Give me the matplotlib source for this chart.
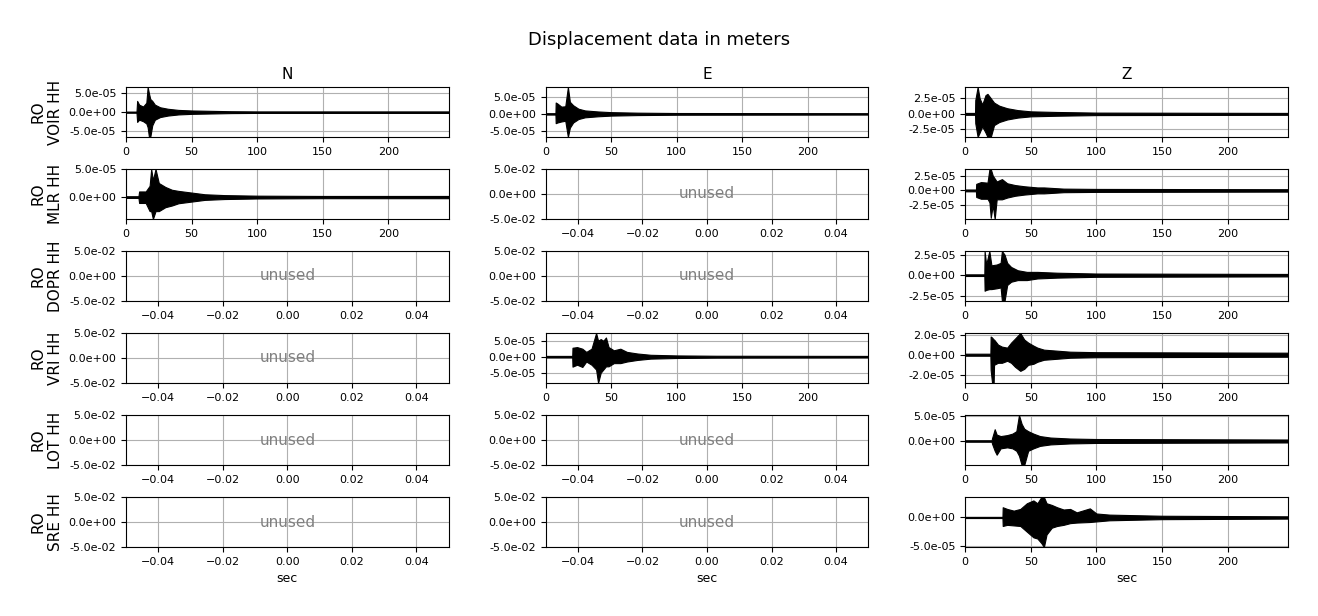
import matplotlib
matplotlib.use("Agg")
import matplotlib.pyplot as plt
import numpy as np
from matplotlib.ticker import FormatStrFormatter, MaxNLocator

plt.rcParams['xtick.labelsize'] = 8
plt.rcParams['ytick.labelsize'] = 8

# station rows and component columns
stations = ['VOIR', 'MLR', 'DOPR', 'VRI', 'LOT', 'SRE']
components = ['N', 'E', 'Z']

# trace envelopes: time (s), upper / lower bound (x 1e-5 m)
voir_n_t = [0, 8.0, 8.5, 10, 13, 15.5, 16.5, 17.5, 18.5, 20, 22, 26, 32, 40, 50, 65, 80, 100, 246]
voir_n_up = [0.15, 0.15, 3.0, 2.0, 1.5, 2.5, 6.7, 5.0, 3.5, 3.0, 2.0, 1.3, 0.9, 0.6, 0.45, 0.35, 0.25, 0.2, 0.2]
voir_n_lo = [-0.15, -0.15, -2.6, -2.0, -2.4, -3.0, -4.0, -6.6, -6.6, -3.5, -2.0, -1.3, -0.9, -0.6, -0.45, -0.35, -0.25, -0.2, -0.2]

mlr_n_t = [0, 9.5, 10, 15, 18, 19.2, 20.5, 22.5, 25, 30, 35, 40, 50, 60, 75, 100, 150, 246]
mlr_n_up = [0.15, 0.15, 1.0, 1.0, 2.0, 5.0, 3.0, 5.0, 2.5, 1.8, 1.3, 1.1, 0.8, 0.5, 0.35, 0.25, 0.2, 0.2]
mlr_n_lo = [-0.15, -0.15, -1.05, -1.05, -2.5, -2.5, -3.9, -2.5, -2.5, -1.8, -1.5, -1.1, -0.8, -0.5, -0.35, -0.25, -0.2, -0.2]

voir_e_t = [0, 7.5, 7.7, 9, 12, 15, 17, 18.5, 21, 25, 30, 40, 50, 70, 100, 246]
voir_e_up = [0.2, 0.2, 3.3, 3.0, 2.1, 2.2, 7.8, 3.5, 2.5, 1.5, 1.0, 0.7, 0.5, 0.35, 0.25, 0.2]
voir_e_lo = [-0.2, -0.2, -2.7, -2.5, -2.2, -2.0, -6.7, -4.0, -2.5, -1.5, -1.0, -0.7, -0.5, -0.35, -0.25, -0.2]

vri_e_t = [0, 20.3, 20.5, 24, 28, 31, 35, 38.5, 40, 42, 44, 46, 48, 52, 57, 62, 70, 80, 100, 130, 246]
vri_e_up = [0.25, 0.25, 2.8, 3.0, 2.5, 1.5, 2.5, 7.4, 5.0, 5.5, 5.0, 6.0, 3.0, 2.0, 2.5, 1.5, 1.0, 0.6, 0.4, 0.3, 0.25]
vri_e_lo = [-0.25, -0.25, -3.1, -2.5, -3.2, -1.5, -2.5, -4.0, -8.2, -5.0, -4.0, -3.0, -3.0, -2.0, -2.0, -1.5, -1.0, -0.6, -0.4, -0.3, -0.25]

voir_z_t = [0, 7.5, 7.7, 9.5, 11, 13, 15.5, 17, 19.5, 22, 26, 32, 40, 50, 70, 100, 246]
voir_z_up = [0.15, 0.15, 2.2, 4.3, 2.5, 1.5, 3.0, 3.2, 2.5, 1.8, 1.3, 0.9, 0.6, 0.4, 0.3, 0.2, 0.15]
voir_z_lo = [-0.15, -0.15, -1.5, -3.7, -3.0, -2.0, -3.0, -3.7, -3.7, -1.8, -1.3, -0.9, -0.6, -0.4, -0.3, -0.2, -0.15]

mlr_z_t = [0, 8.2, 8.4, 12, 17, 18.5, 19.5, 21, 22.5, 24, 28, 32, 38, 45, 55, 60, 75, 100, 246]
mlr_z_up = [0.15, 0.15, 1.1, 1.4, 1.3, 3.6, 3.6, 2.5, 2.0, 1.5, 1.9, 1.2, 0.9, 0.7, 0.5, 0.5, 0.3, 0.25, 0.2]
mlr_z_lo = [-0.15, -0.15, -1.1, -1.4, -1.4, -2.0, -4.6, -2.5, -4.8, -1.5, -1.5, -1.2, -0.9, -0.7, -0.5, -0.5, -0.3, -0.25, -0.2]

dopr_z_t = [0, 14.6, 14.8, 16, 18.4, 20, 24, 27, 28, 30, 32, 35, 40, 47, 55, 70, 85, 100, 246]
dopr_z_up = [0.1, 0.1, 2.95, 1.3, 2.95, 1.2, 1.3, 1.5, 2.95, 2.5, 1.5, 1.0, 0.6, 0.4, 0.4, 0.3, 0.25, 0.2, 0.15]
dopr_z_lo = [-0.1, -0.1, -1.9, -1.8, -1.7, -1.7, -1.6, -1.5, -3.15, -3.15, -1.2, -0.8, -0.6, -0.6, -0.4, -0.3, -0.25, -0.2, -0.15]

vri_z_t = [0, 19.2, 19.4, 20.5, 21.7, 22, 25, 28, 32, 35, 38, 42, 45, 48, 52, 55, 60, 70, 80, 100, 246]
vri_z_up = [0.1, 0.1, 1.8, 1.7, 1.5, 1.5, 1.0, 0.8, 0.7, 1.2, 1.6, 2.15, 1.5, 1.2, 0.9, 0.7, 0.5, 0.4, 0.3, 0.25, 0.2]
vri_z_lo = [-0.1, -0.1, -1.5, -2.8, -2.8, -1.0, -0.8, -0.8, -0.6, -0.8, -1.2, -1.6, -1.4, -1.0, -0.9, -0.7, -0.5, -0.4, -0.3, -0.25, -0.2]

lot_z_t = [0, 20.2, 20.4, 22.5, 24, 27, 32, 36, 39, 41, 43, 45, 48, 52, 57, 65, 80, 100, 246]
lot_z_up = [0.15, 0.15, 0.5, 2.4, 1.3, 1.0, 1.2, 1.5, 2.0, 5.3, 3.5, 2.5, 2.0, 1.5, 1.0, 0.7, 0.5, 0.4, 0.3]
lot_z_lo = [-0.15, -0.15, -0.5, -2.0, -2.8, -1.5, -1.3, -1.5, -2.0, -3.0, -4.9, -4.9, -2.0, -1.5, -1.0, -0.7, -0.5, -0.4, -0.3]

sre_z_t = [0, 28.4, 28.6, 32, 37, 42, 47, 52, 55, 58, 60, 62, 66, 70, 75, 80, 85, 95, 100, 110, 130, 150, 200, 246]
sre_z_up = [0.1, 0.1, 1.8, 1.5, 1.2, 1.5, 2.5, 3.0, 2.5, 3.6, 3.6, 2.5, 2.2, 1.8, 1.4, 1.5, 0.9, 1.6, 0.7, 0.5, 0.4, 0.3, 0.25, 0.2]
sre_z_lo = [-0.1, -0.1, -1.5, -1.3, -1.4, -1.5, -2.5, -3.5, -3.7, -4.5, -5.2, -3.0, -1.8, -1.5, -1.3, -1.0, -0.9, -0.8, -0.7, -0.5, -0.4, -0.3, -0.25, -0.2]

traces = {
    ('VOIR', 'N'): (voir_n_t, voir_n_up, voir_n_lo),
    ('MLR', 'N'): (mlr_n_t, mlr_n_up, mlr_n_lo),
    ('VOIR', 'E'): (voir_e_t, voir_e_up, voir_e_lo),
    ('VRI', 'E'): (vri_e_t, vri_e_up, vri_e_lo),
    ('VOIR', 'Z'): (voir_z_t, voir_z_up, voir_z_lo),
    ('MLR', 'Z'): (mlr_z_t, mlr_z_up, mlr_z_lo),
    ('DOPR', 'Z'): (dopr_z_t, dopr_z_up, dopr_z_lo),
    ('VRI', 'Z'): (vri_z_t, vri_z_up, vri_z_lo),
    ('LOT', 'Z'): (lot_z_t, lot_z_up, lot_z_lo),
    ('SRE', 'Z'): (sre_z_t, sre_z_up, sre_z_lo),
}

fig, axes = plt.subplots(len(stations), len(components), figsize=(13.18, 6.16), dpi=100)
fig.subplots_adjust(left=0.0956, right=0.9772, top=0.8588, bottom=0.112,
                    wspace=0.30, hspace=0.64)
fig.suptitle('Displacement data in meters', fontsize=13, y=0.95)

for i, sta in enumerate(stations):
    for j, comp in enumerate(components):
        ax = axes[i, j]
        if (sta, comp) in traces:
            t, up, lo = traces[(sta, comp)]
            up = np.array(up) * 1e-5
            lo = np.array(lo) * 1e-5
            ax.fill_between(t, lo, up, color='k', lw=0.8)
            ax.set_xlim(t[0], t[-1])
            ax.set_ylim(lo.min(), up.max())
        else:
            ax.set_xlim(-0.05, 0.05)
            ax.set_ylim(-0.05, 0.05)
            ax.text(0.5, 0.5, 'unused', transform=ax.transAxes, ha='center',
                    va='center', color='gray', fontsize=11)
        ax.yaxis.set_major_locator(MaxNLocator(nbins=3, steps=[1, 2, 2.5, 5, 10]))
        ax.yaxis.set_major_formatter(FormatStrFormatter('%.1e'))
        ax.grid()
        ax.set_axisbelow(True)
        if i == 0:
            ax.set_title(comp, fontsize=11)
        if j == 0:
            ax.set_ylabel('RO\n{} HH'.format(sta), fontsize=11)
        if i == len(stations) - 1:
            ax.set_xlabel('sec', fontsize=9)

plt.savefig('out.png', dpi=100)
